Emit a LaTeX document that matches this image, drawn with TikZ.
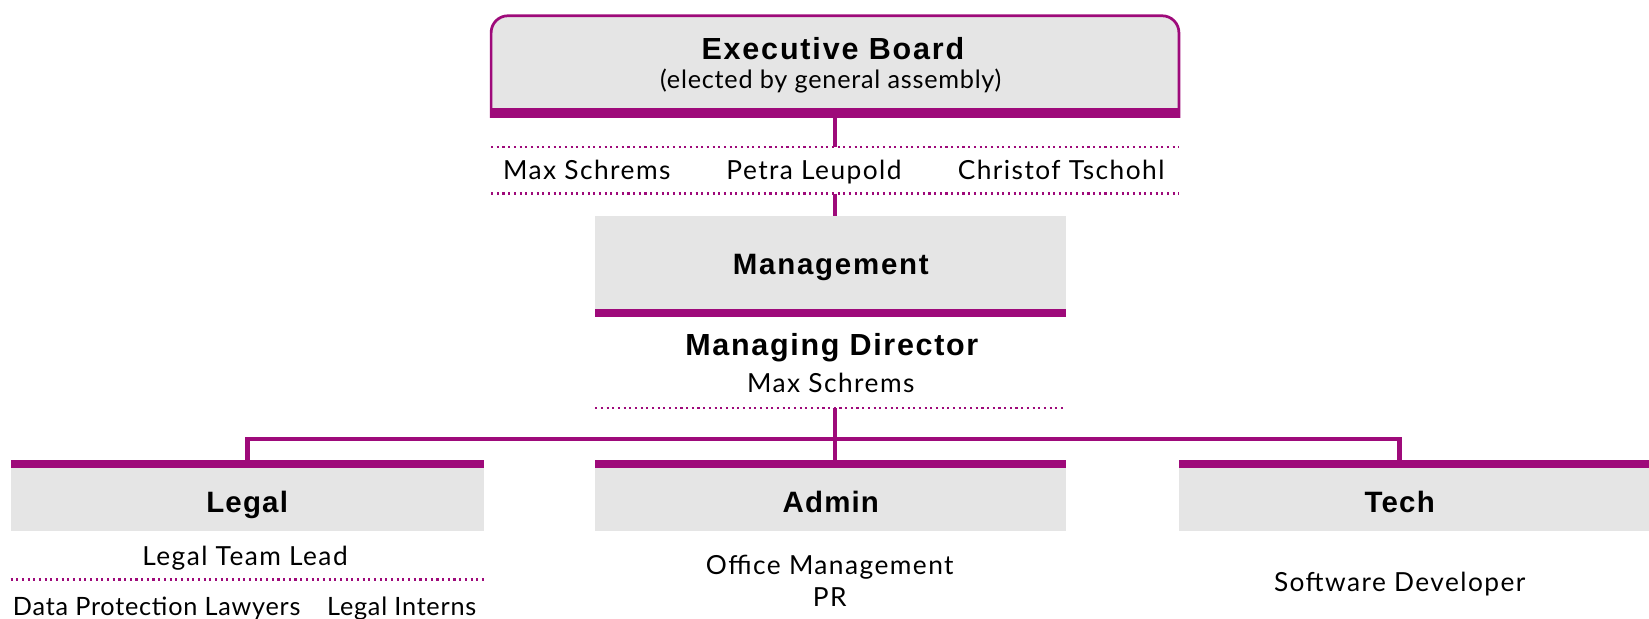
\documentclass[tikz,border=0pt]{standalone}
\usepackage{fontspec}
\setmainfont{Lato}[LetterSpace=3]
\newfontfamily\bodyfont{Lato}[LetterSpace=5.5]
\newfontfamily\headfont{Liberation Sans}[LetterSpace=4]
\newfontfamily\headwidefont{Liberation Sans}[LetterSpace=6]
\newfontfamily\headmdfont{Liberation Sans}[LetterSpace=5.5]
\definecolor{pur}{RGB}{158,10,122}
\definecolor{boxgray}{RGB}{229,229,229}
\tikzset{
  conn/.style={draw=pur, line width=2.3pt},
  dotline/.style={draw=pur, line width=1pt, dash pattern=on 1pt off 1.7pt},
  frame/.style={inner sep=0pt, outer sep=0pt},
  graybox/.style={frame, fill=boxgray},
  txt/.style={anchor=base, inner sep=0pt, font=\bodyfont\fontsize{12.5}{15}\selectfont},
  smalltxt/.style={anchor=base, inner sep=0pt, font=\fontsize{12}{14}\selectfont},
  head/.style={anchor=base, inner sep=0pt, font=\headfont\bfseries\fontsize{14}{16}\selectfont},
  headw/.style={anchor=base, inner sep=0pt, font=\headwidefont\bfseries\fontsize{14}{16}\selectfont},
  headmd/.style={anchor=base, inner sep=0pt, font=\headmdfont\bfseries\fontsize{14.5}{17}\selectfont},
  bigh/.style={anchor=base, inner sep=0pt, font=\headwidefont\bfseries\fontsize{14.5}{17}\selectfont},
}
\begin{document}
\begin{tikzpicture}[x=0.5pt,y=-0.5pt]
\useasboundingbox (0,0) rectangle (1568,588);
% frames
\node[frame, minimum width=327pt, minimum height=48.5pt] (exec) at (794,63.5) {};
\node[frame, minimum width=327pt, minimum height=22pt] (board) at (794,162) {};
\node[graybox, minimum width=224pt, minimum height=48pt] (mgmt) at (790,253) {};
\node[frame, minimum width=224pt, minimum height=43.5pt] (md) at (790,344.5) {};
\node[graybox, minimum width=225pt, minimum height=34pt] (legal) at (235,471) {};
\node[graybox, minimum width=224pt, minimum height=34pt] (admin) at (790,471) {};
\node[graybox, minimum width=223.5pt, minimum height=34pt] (tech) at (1344.5,471) {};
\coordinate (techin) at (1331,437);
\coordinate (bus) at (794,417.5);
% connectors
\draw[conn] (exec.south) -- (board.north);
\draw[conn] (board.south) -- (board.south |- mgmt.north);
\draw[conn] (md.south -| board.south) -- (board.south |- admin.north);
\draw[conn, line join=miter] (legal.north) |- (bus) -| (techin);
% executive board box
\path[fill=boxgray, draw=pur, line width=1.3pt, rounded corners=8pt]
  (exec.south west) -- (exec.north west) -- (exec.north east) -- (exec.south east);
\fill[pur] ([xshift=-0.65pt]exec.south west) rectangle ([xshift=0.65pt,yshift=4.75pt]exec.south east);
% bars
\fill[pur] (mgmt.south west) rectangle ([yshift=3.65pt]mgmt.south east);
\fill[pur] (legal.north west) rectangle ([yshift=-4.2pt]legal.north east);
\fill[pur] (admin.north west) rectangle ([yshift=-4.2pt]admin.north east);
\fill[pur] (tech.north west) rectangle ([yshift=-4.2pt]tech.north east);
% dotted lines
\draw[dotline] (board.north west) -- (board.north east);
\draw[dotline] (board.south west) -- (board.south east);
\draw[dotline] (md.south west) -- (md.south east);
\coordinate (legdotL) at (10,551);
\coordinate (legdotR) at (460,551);
\draw[dotline] (legdotL) -- (legdotR);
% texts
\node[bigh] (t1) at (792,57) {Executive Board};
\node[smalltxt] (t2) at (790,84) {(elected by general assembly)};
\node[txt] (n1) at (558,171) {Max Schrems};
\node[txt] (n2) at (774,171) {Petra Leupold};
\node[txt] (n3) at (1009,171) {Christof Tschohl};
\node[headw] (t3) at (790,261) {Management};
\node[headmd] (t4) at (791,338) {Managing Director};
\node[txt] (t5) at (790,373.5) {Max Schrems};
\node[head] (t6) at (235,487) {Legal};
\node[head] (t7) at (790,487) {Admin};
\node[head] (t8) at (1331,487) {Tech};
\node[txt] (t9) at (233,538) {Legal Team Lead};
\node[smalltxt] (t10) at (149,585) {Data Protection Lawyers};
\node[smalltxt] (t11) at (382,585) {Legal Interns};
\node[txt] (t12) at (789,546) {Office Management};
\node[txt] (t13) at (789,577) {PR};
\node[txt] (t14) at (1331,562) {Software Developer};
\end{tikzpicture}
\end{document}
